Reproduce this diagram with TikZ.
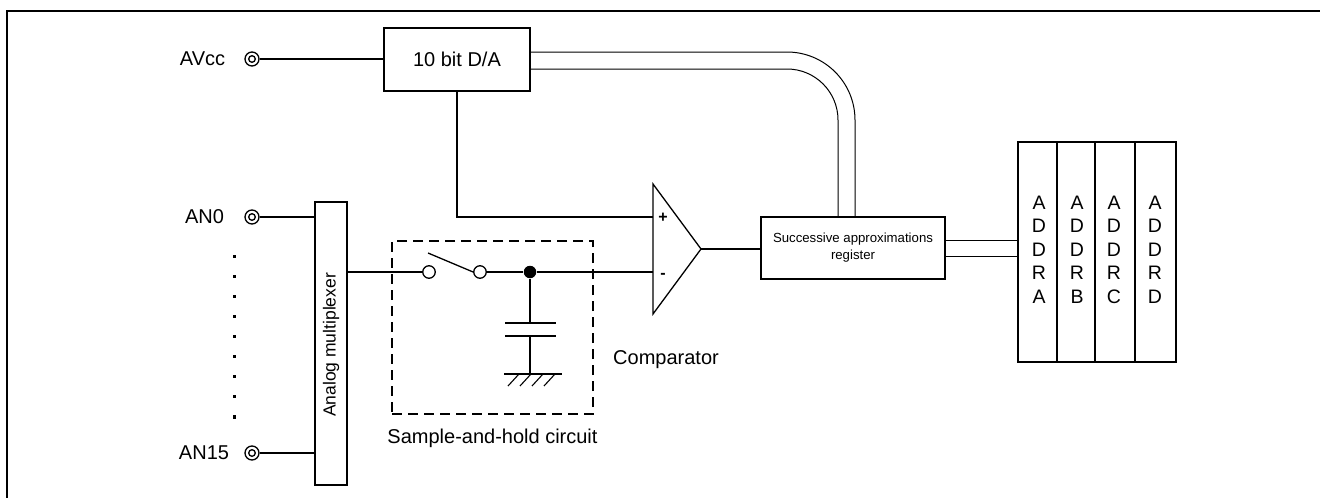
\documentclass[tikz,border=0pt]{standalone}
\usepackage{fontspec}
\setmainfont{Liberation Sans}
\usetikzlibrary{calc}
\begin{document}
\begin{tikzpicture}[x=1pt,y=-1pt, line width=1.3pt,
  box/.style={draw, inner sep=0pt, outer sep=0pt},
  term/.style={circle, draw, minimum size=14pt, inner sep=0pt,
    path picture={\draw[line width=1.3pt] (path picture bounding box.center) circle (3.3pt);}},
  lbl/.style={font=\fontsize{20}{24}\selectfont, inner sep=0pt},
  bus/.style={line width=1pt},
  hollow/.style={circle, draw, fill=white, minimum size=12.5pt, inner sep=0pt},
  regbox/.style={box, minimum height=220pt},
  reglbl/.style={align=center, inner sep=0pt, font=\fontsize{19.5}{23.5}\selectfont}]
\useasboundingbox (0,0) rectangle (1320,498);
% frame
\draw[line width=1.8pt] (7,498) -- (7,11) -- (1320,11);
% D/A
\node[box, lbl, minimum width=146pt, minimum height=63pt] (da) at (457,59.5) {10 bit D/A};
\node[term] (avcc) at (252,59) {};
\node[lbl] (tavcc) at (202.5,59) {AVcc};
\draw (avcc) -- (avcc -| da.west);
% multiplexer
\node[box, minimum width=32pt, minimum height=283pt] (mux) at (331,343.5) {};
\node[font=\fontsize{17.5}{20}\selectfont, rotate=90, inner sep=0pt] (muxt) at (331,345) {Analog multiplexer};
\node[term] (an0) at (252,217) {};
\node[lbl] (tan0) at (204.5,217) {AN0};
\draw (an0) -- (an0 -| mux.west);
\node[term] (an15) at (252,453) {};
\node[lbl] (tan15) at (204,453) {AN15};
\draw (an15) -- (an15 -| mux.west);
\foreach \i in {0,...,8} \fill (232.5,254.5+20.1*\i) rectangle ++(3.2,3.2);
% sample and hold
\node[box, dash pattern=on 10pt off 6pt, minimum width=201pt, minimum height=173pt] (sh) at (492.5,327.5) {};
\node[lbl] (sht) at (492.5,438) {Sample-and-hold circuit};
\node[hollow] (sw1) at (429,272) {};
\node[hollow] (sw2) at (480,272) {};
\node[circle, fill, minimum size=12.5pt, inner sep=0pt] (jn) at (530,272) {};
\coordinate (lev) at (428,253);
\draw (lev) -- (sw2.west);
\draw (mux.east |- sw1) -- (sw1.west);
\draw (sw2.east) -- (jn);
% capacitor and ground
\coordinate (c1) at (530,323);
\coordinate (c2) at (530,336);
\coordinate (gnd) at (530,374);
\draw (jn) -- (c1);
\draw (505,323) -- (556,323);
\draw (505,336) -- (556,336);
\draw (c2) -- (gnd);
\draw (504,374) -- (562,374);
\foreach \x in {519,531,543,555} \draw[line width=1.1pt] (\x,374) -- (\x-11,386);
% comparator
\coordinate (cp) at (653,217);
\coordinate (cm) at (653,272);
\coordinate (co) at (701,249);
\draw[line join=miter] (653,184) -- (co) -- (653,314) -- cycle;
\node[font=\bfseries\fontsize{16}{18}\selectfont, inner sep=0pt] (plus) at (663,218) {+};
\node[font=\bfseries\fontsize{16}{18}\selectfont, inner sep=0pt] (minus) at (663,276) {-};
\node[lbl] (tcomp) at (666,360) {Comparator};
\draw (jn) -- (cm);
\draw (da.south) |- (cp);
% SAR
\node[box, minimum width=184pt, minimum height=62pt, align=center, font=\fontsize{13.2}{17}\selectfont] (sar) at (853,248) {Successive approximations\\register};
\draw (co) -- (co -| sar.west);
\coordinate (b1) at (855,52);
\coordinate (b2) at (838,69);
\draw[bus, rounded corners=68pt] (da.east |- b1) -- (b1) -- (b1 |- sar.north);
\draw[bus, rounded corners=51pt] (da.east |- b2) -- (b2) -- (b2 |- sar.north);
% registers
\node[regbox, minimum width=39pt] (ra) at (1037.5,252) {};
\node[regbox, minimum width=38pt] (rb) at (1076,252) {};
\node[regbox, minimum width=40pt] (rc) at (1115,252) {};
\node[regbox, minimum width=41pt] (rd) at (1155.5,252) {};
\node[reglbl] (la) at (1039,249.5) {A\\D\\D\\R\\A};
\node[reglbl] (lb) at (1077,249.5) {A\\D\\D\\R\\B};
\node[reglbl] (lc) at (1114,249.5) {A\\D\\D\\R\\C};
\node[reglbl] (ld) at (1155,249.5) {A\\D\\D\\R\\D};
\coordinate (o1) at (945,240);
\coordinate (o2) at (945,256);
\draw[bus] (sar.east |- o1) -- (o1 -| ra.west);
\draw[bus] (sar.east |- o2) -- (o2 -| ra.west);
\end{tikzpicture}
\end{document}
